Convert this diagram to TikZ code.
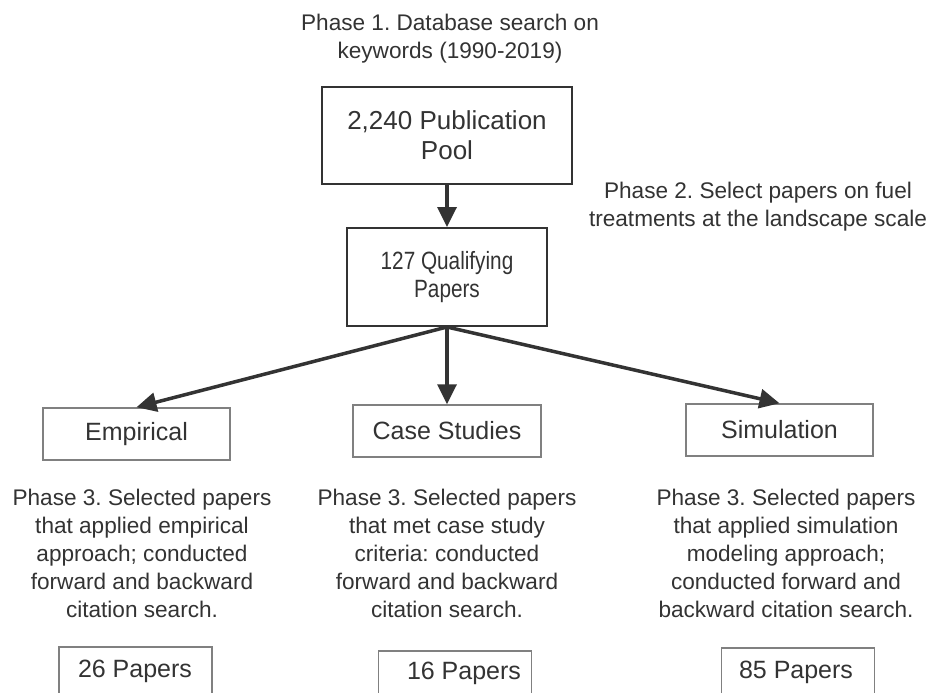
\documentclass[tikz,border=0pt]{standalone}
\usepackage{fontspec}
\setmainfont{Liberation Sans}
\newfontfamily\condfont[FakeStretch=0.83]{Liberation Sans}
\usetikzlibrary{arrows.meta}
\definecolor{ink}{HTML}{333333}
\definecolor{edgegray}{HTML}{808080}
\frenchspacing
\begin{document}
\begin{tikzpicture}[x=1pt,y=-1pt,
  txt/.style={text=ink, align=center, inner sep=0pt, font=\fontsize{22.6}{28}\selectfont},
  bigbox/.style={draw=ink, line width=2pt, text=ink, align=center, inner sep=0pt},
  catbox/.style={draw=edgegray, line width=1.5pt, text=ink, inner sep=0pt,
    minimum height=52pt, font=\fontsize{25}{30}\selectfont},
  cntbox/.style={draw=edgegray, line width=1.5pt, minimum width=153pt, minimum height=86pt, inner sep=0pt},
  cnttxt/.style={text=ink, inner sep=0pt, font=\fontsize{25}{30}\selectfont},
  flow/.style={draw=ink, line width=3.5pt, -{Triangle[length=20pt,width=19pt]}}]
\useasboundingbox (0,0) rectangle (932,693);
\clip (0,0) rectangle (932,693);
\fill[white] (0,0) rectangle (932,693);

\node[txt] (p1) at (450,39) {Phase 1. Database search on\\keywords (1990-2019)};
\node[bigbox, minimum width=250pt, minimum height=97pt,
  font=\fontsize{26}{30}\selectfont] (pool) at (447,135.5) {2,240 Publication\\Pool};
\node[bigbox, minimum width=200pt, minimum height=98pt,
  font=\condfont\fontsize{25}{28}\selectfont] (qual) at (447,277) {127 Qualifying\\Papers};
\node[txt] (p2) at (758,207) {Phase 2. Select papers on fuel\\treatments at the landscape scale};

\node[catbox, minimum width=187pt] (emp) at (136.5,434) {Empirical};
\node[catbox, minimum width=188pt] (case) at (447,431) {Case Studies};
\node[catbox, minimum width=187pt] (sim) at (779.5,430) {Simulation};

\draw[flow] (pool.south) -- (qual.north);
\draw[flow] (qual.south) -- (emp.north);
\draw[flow] (qual.south) -- (case.north);
\draw[flow] (qual.south) -- (sim.north);

\node[txt] (t1) at (142,553) {Phase 3. Selected papers\\that applied empirical\\approach; conducted\\forward and backward\\citation search.};
\node[txt] (t2) at (447,553) {Phase 3. Selected papers\\that met case study\\criteria: conducted\\forward and backward\\citation search.};
\node[txt] (t3) at (786,553) {Phase 3. Selected papers\\that applied simulation\\modeling approach;\\conducted forward and\\backward citation search.};

\node[cntbox] (b1) at (135.5,690) {};
\node[cntbox] (b2) at (455,694) {};
\node[cntbox] (b3) at (798,691) {};
\node[cnttxt] (n1) at (135,671) {26 Papers};
\node[cnttxt] (n2) at (464,673) {16 Papers};
\node[cnttxt] (n3) at (796,672) {85 Papers};
\end{tikzpicture}
\end{document}
